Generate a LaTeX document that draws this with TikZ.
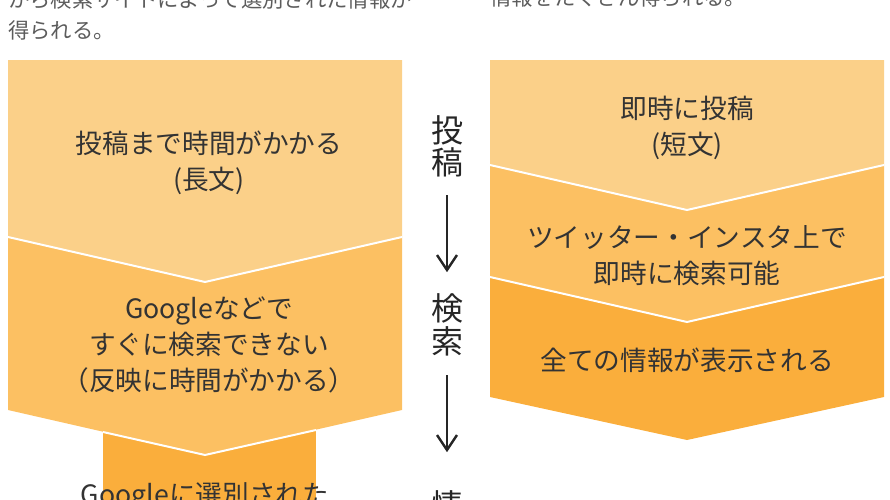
\documentclass[tikz,border=0pt]{standalone}
\usepackage{fontspec}
\setmainfont{Noto Sans CJK JP}
\definecolor{cA}{HTML}{FBD089}
\definecolor{cB}{HTML}{FCC062}
\definecolor{cC}{HTML}{FAAE3C}
\definecolor{tx}{HTML}{333333}
\begin{document}
\begin{tikzpicture}[x=0.75pt,y=-0.75pt,
  sep/.style={draw=white,line width=1.5pt},
  lbl/.style={text=tx,font=\fontsize{20pt}{27pt}\selectfont,align=center,inner sep=0pt},
  mid/.style={text=black!85,font=\fontsize{24pt}{26pt}\selectfont,inner sep=0pt},
  top/.style={text=tx!80,font=\fontsize{16pt}{20pt}\selectfont,anchor=west,inner sep=0pt},
  arr/.style={line width=1.8pt,black!85}]
\useasboundingbox (0,0) rectangle (890,500);
\begin{scope}
\clip (0,0) rectangle (890,500);
% left column
\fill[cC] (103,430) rectangle (316,510);
\fill[cB] (8,237)--(205,282)--(402,237)--(402,410)--(205,455)--(8,410)--cycle;
\draw[sep] (103,432)--(205,455)--(316,430);
\fill[cA] (8,60)--(402,60)--(402,237)--(205,282)--(8,237)--cycle;
\draw[sep] (8,237)--(205,282)--(402,237);
% right column
\fill[cC] (490,277)--(687,322)--(884,277)--(884,397)--(687,440)--(490,397)--cycle;
\fill[cB] (490,165)--(687,210)--(884,165)--(884,277)--(687,322)--(490,277)--cycle;
\draw[sep] (490,277)--(687,322)--(884,277);
\fill[cA] (490,60)--(884,60)--(884,165)--(687,210)--(490,165)--cycle;
\draw[sep] (490,165)--(687,210)--(884,165);
% texts
\node[top] (t1) at (8,-1) {から検索サイトによって選別された情報が};
\node[top] (t2) at (8,30) {得られる。};
\node[top] (t3) at (490,-3) {情報をたくさん得られる。};
\node[lbl] (l1) at (209,163) {投稿まで時間がかかる\\(長文)};
\node[lbl] (l2) at (209,345) {Googleなどで\\すぐに検索できない\\（反映に時間がかかる）};
\node[lbl] (l3) at (205,497) {Googleに選別された};
\node[lbl] (r1) at (687,128) {即時に投稿\\(短文)};
\node[lbl] (r2) at (687,256) {ツイッター・インスタ上で\\即時に検索可能};
\node[lbl] (r3) at (687,360) {全ての情報が表示される};
\node[mid] (m1) at (447,130) {投};
\node[mid] (m2) at (447,162) {稿};
\node[mid] (m3) at (447,308) {検};
\node[mid] (m4) at (447,341) {索};
\node[mid] (m5) at (447,505) {情};
\coordinate (a1) at (447,195); \coordinate (b1) at (447,270);
\coordinate (a2) at (447,375); \coordinate (b2) at (447,450);
\draw[arr] (a1)--(b1); \draw[arr] (437,255)--(b1)--(457,255);
\draw[arr] (a2)--(b2); \draw[arr] (437,435)--(b2)--(457,435);
\end{scope}
\end{tikzpicture}
\end{document}
